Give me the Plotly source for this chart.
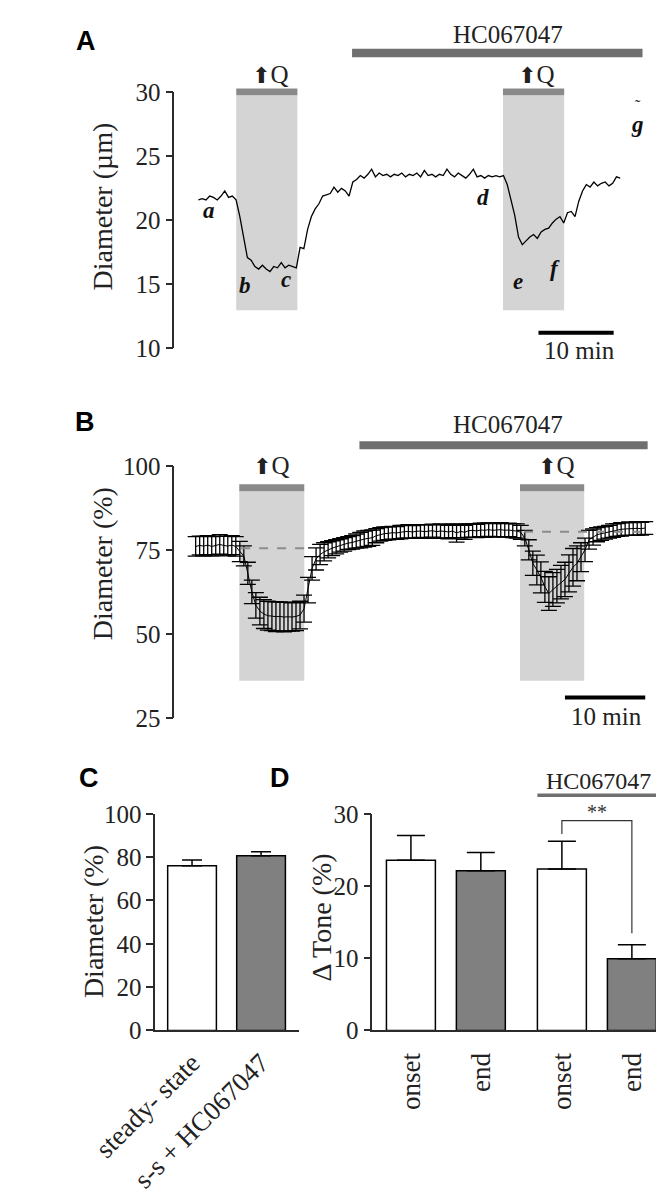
import plotly.graph_objects as go

# ---------------- data ----------------
# Panel A: single-vessel diameter trace (um), sampled every 0.5 min
a_step = 0.5
a_diam = [21.6, 21.7, 21.6, 21.9, 21.8, 21.6, 21.9, 22.3, 21.8, 21.9,
          21.6, 20.3, 18.7, 17.1, 16.9, 16.4, 16.2, 16.5, 16.2, 16.0,
          16.4, 16.3, 16.7, 16.3, 16.5, 16.4, 16.3, 17.9, 17.8, 19.3,
          20.3, 20.9, 21.3, 21.9, 22.0, 22.1, 22.6, 22.2, 22.5, 22.3,
          21.9, 23.0, 23.2, 23.5, 23.3, 23.6, 24.0, 23.4, 23.7, 23.5,
          23.6, 23.4, 23.6, 23.5, 23.7, 23.4, 23.6, 23.5, 23.7, 23.4,
          23.9, 23.5, 23.6, 23.4, 23.6, 23.5, 24.0, 23.6, 23.4, 23.7,
          23.5, 23.3, 23.6, 24.0, 23.4, 23.5, 23.3, 23.5, 23.4, 23.5,
          23.4, 23.5, 22.8, 21.5, 20.4, 18.7, 18.1, 18.4, 18.7, 18.9,
          18.6, 19.1, 19.3, 19.4, 19.8, 20.1, 20.3, 19.8, 20.6, 20.7,
          20.3, 21.5, 22.3, 22.8, 22.6, 23.0, 22.7, 22.9, 23.0, 22.7,
          22.9, 23.4, 23.3]
a_time = [i * a_step for i in range(len(a_diam))]
a_q_windows = [(5.02, 13.14), (40.44, 48.56)]
a_hc_window = (20.4, 58.96)
a_letters = ["a", "b", "c", "d", "e", "f", "g"]
a_letter_t = [1.37, 6.19, 11.67, 37.8, 42.4, 47.3, 58.36]
a_letter_v = [20.75, 14.95, 15.35, 21.75, 15.2, 16.25, 27.5]

# Panel B: mean diameter (%) +- SEM, sampled every 0.5 min
b_step = 0.5
b_mean = [76.0, 76.3, 76.1, 76.4, 76.0, 76.2, 76.6, 76.3, 76.1, 76.4, 76.0,
          74.5, 73.2, 68.0, 62.5, 58.5, 56.8, 55.9, 55.4, 55.3, 55.1,
          55.2, 55.0, 55.1, 55.0, 55.2, 55.6, 57.5, 63.0, 69.5, 72.3,
          73.6, 74.4, 75.0, 75.5, 75.9, 76.3, 76.6, 77.0, 77.2, 77.6,
          77.9, 78.2, 78.4, 78.6, 79.2, 79.6, 79.8, 79.9, 80.1, 80.0,
          80.3, 80.4, 80.5, 80.3, 80.5, 80.6, 80.4, 80.5, 80.7, 80.4,
          80.6, 80.5, 80.3, 80.6, 80.0, 80.5, 80.2, 80.7, 80.8, 80.6,
          80.9, 80.8, 81.0, 80.8, 80.9, 81.0, 80.8, 80.9, 80.7, 80.6,
          80.2, 78.5, 75.0, 71.0, 69.0, 66.8, 64.0, 62.0, 63.2, 64.2,
          65.4, 66.2, 68.0, 69.8, 71.0, 72.8, 75.0, 78.0, 78.8, 79.5,
          79.8, 80.1, 80.4, 80.7, 80.9, 81.1, 81.2, 81.3, 81.2, 81.4,
          81.3, 81.5]
b_sem = [2.9, 2.8, 2.9, 2.8, 2.9, 2.8, 2.9, 2.8, 2.9, 2.8, 2.9,
         3.0, 3.0, 3.3, 3.5, 3.8, 4.1, 4.3, 4.3, 4.3, 4.4,
         4.3, 4.4, 4.3, 4.2, 4.2, 4.1, 4.0, 3.8, 3.5, 3.3,
         3.0, 2.7, 2.4, 2.2, 2.1, 2.0, 2.0, 1.9, 2.0, 2.1,
         2.3, 2.4, 2.4, 2.3, 2.1, 2.0, 2.0, 1.9, 1.9, 1.9,
         2.0, 1.9, 2.0, 1.9, 2.0, 1.9, 2.0, 2.0, 1.9, 2.0,
         2.1, 2.0, 2.0, 2.0, 2.7, 2.0, 2.1, 2.0, 2.0, 2.0,
         2.0, 2.1, 2.0, 2.0, 2.0, 2.1, 2.0, 2.0, 2.1, 2.1,
         2.1, 2.3, 3.0, 3.6, 4.4, 4.6, 4.6, 5.0, 5.0, 5.0,
         5.0, 5.1, 5.5, 5.6, 5.2, 4.3, 3.5, 2.8, 2.4, 2.1,
         2.0, 1.9, 1.9, 2.0, 1.9, 2.0, 1.9, 2.0, 1.9, 2.0,
         1.9, 1.9]
b_time = [i * b_step for i in range(len(b_mean))]
b_q_windows = [(5.43, 13.53), (40.4, 48.4)]
b_hc_window = (20.4, 56.3)
b_baselines = [(5.66, 14.26, 75.5), (40.9, 56.6, 80.4)]

# Panel C
c_labels = ["steady- state", "s-s + HC067047"]
c_values = [76.0, 80.6]
c_errors = [2.7, 1.9]

# Panel D
d_labels = ["onset", "end", "onset", "end"]
d_values = [23.55, 22.1, 22.35, 9.93]
d_errors = [3.43, 2.55, 3.85, 1.94]

# ---------------- layout helpers ----------------
W, H = 664, 1200
SERIF = "Liberation Serif"
SANS = "Liberation Sans"
AXC = "#2b2b2b"


def px(x):
    return x / W


def py(y):
    return 1 - y / H


def note(x, y, text, xref, yref, font, **kw):
    d = dict(x=x, y=y, xref=xref, yref=yref, text=text, showarrow=False,
             xanchor="center", yanchor="middle", font=font)
    d.update(kw)
    return d


fig = go.Figure()

# ---------- Panel A ----------
fig.add_trace(go.Scatter(x=a_time, y=a_diam, mode="lines",
                         line=dict(color="black", width=1.3),
                         xaxis="x", yaxis="y", hoverinfo="skip"))

# ---------- Panel B ----------
fig.add_trace(go.Scatter(x=b_time, y=b_mean, mode="lines",
                         line=dict(color="black", width=1.0),
                         error_y=dict(type="data", array=b_sem, visible=True,
                                      color="black", thickness=1.3, width=8),
                         xaxis="x2", yaxis="y2", hoverinfo="skip"))

# ---------- Panel C ----------
c_pos = [0, 1]
fig.add_trace(go.Bar(x=c_pos, y=c_values, width=0.706,
                     marker=dict(color=["white", "#808080"],
                                 line=dict(color="black", width=1.5)),
                     error_y=dict(type="data", array=c_errors,
                                  arrayminus=[0] * len(c_errors), symmetric=False,
                                  color="black", thickness=1.5, width=10),
                     xaxis="x3", yaxis="y3", hoverinfo="skip"))

# ---------- Panel D ----------
d_pos = [0, 1, 2.159, 3.16]
fig.add_trace(go.Bar(x=d_pos, y=d_values, width=0.70,
                     marker=dict(color=["white", "#808080", "white", "#808080"],
                                 line=dict(color="black", width=1.5)),
                     error_y=dict(type="data", array=d_errors,
                                  arrayminus=[0] * len(d_errors), symmetric=False,
                                  color="black", thickness=1.5, width=14),
                     xaxis="x4", yaxis="y4", hoverinfo="skip"))

shapes = []
annotations = []

tickfont_ab = dict(family=SERIF, size=25, color="#222")
tickfont_cd = dict(family=SERIF, size=25, color="#222")
txt = dict(family=SERIF, size=25, color="#222")
title_font = dict(family=SERIF, size=28, color="#222")
panel_font = dict(family=SANS, size=27, color="black")


def yax(domain, rng, tickvals, font, anchor):
    return dict(domain=domain, range=rng, tickvals=tickvals, ticks="outside",
                ticklen=7, tickwidth=1.5, tickcolor=AXC, showline=True,
                linecolor=AXC, linewidth=1.5, showgrid=False, zeroline=False,
                tickfont=font, anchor=anchor, fixedrange=True)


hidden_x = dict(visible=False, showgrid=False, zeroline=False, fixedrange=True)

layout = dict(
    width=W, height=H, margin=dict(l=0, r=0, t=0, b=0),
    paper_bgcolor="white", plot_bgcolor="white", showlegend=False,
    xaxis=dict(domain=[px(112.3), px(645)], range=[-3.2, 60.6], anchor="y", **hidden_x),
    yaxis=yax([py(335), py(73)], [10, 30], [10, 15, 20, 25, 30], tickfont_ab, "x"),
    xaxis2=dict(domain=[px(112.3), px(645)], range=[-2.66, 57.2], anchor="y2", **hidden_x),
    yaxis2=yax([py(713), py(455)], [25, 100], [25, 50, 75, 100], tickfont_ab, "x2"),
    xaxis3=dict(domain=[px(91.1), px(250)], range=[-0.534, 1.543], anchor="y3",
                tickvals=c_pos, ticktext=c_labels, tickangle=-45, ticks="",
                showline=True, linecolor=AXC, linewidth=1.5, showgrid=False,
                zeroline=False, tickfont=dict(family=SERIF, size=27, color="#222"),
                ticklabelstandoff=4, fixedrange=True),
    yaxis3=yax([py(1032.7), py(811)], [0, 100], [0, 20, 40, 60, 80, 100], tickfont_cd, "x3"),
    xaxis4=dict(domain=[px(331.8), px(661)], range=[-0.552, 3.695], anchor="y4",
                tickvals=d_pos, ticktext=d_labels, tickangle=-90, ticks="",
                showline=True, linecolor=AXC, linewidth=1.5, showgrid=False,
                zeroline=False, tickfont=dict(family=SERIF, size=27, color="#222"),
                ticklabelstandoff=10, fixedrange=True),
    yaxis4=yax([py(1032.7), py(811)], [0, 30], [0, 10, 20, 30], tickfont_cd, "x4"),
)

ARROWQ = '<span style="font-family:DejaVu Sans;font-size:22px">⬆</span>Q'

# ---- Panel A decorations ----
for (t0, t1) in a_q_windows:
    shapes.append(dict(type="rect", xref="x", yref="paper", x0=t0, x1=t1,
                       y0=py(296), y1=py(76), fillcolor="#d4d4d4", line=dict(width=0),
                       layer="below"))
    shapes.append(dict(type="rect", xref="x", yref="paper", x0=t0, x1=t1,
                       y0=py(76), y1=py(69), fillcolor="#8a8a8a", line=dict(width=0)))
shapes.append(dict(type="rect", xref="x", yref="paper", x0=a_hc_window[0], x1=a_hc_window[1],
                   y0=py(37), y1=py(28.5), fillcolor="#6f6f6f", line=dict(width=0)))
shapes.append(dict(type="line", xref="x", yref="paper", x0=45.15, x1=55.13,
                   y0=py(319), y1=py(319), line=dict(color="black", width=4)))
annotations.append(note(50.6, py(337), "10 min", "x", "paper", txt))
annotations.append(note(41.05, py(14), "HC067047", "x", "paper", txt))
for tq in [9.6, 44.9]:
    annotations.append(note(tq, py(55), ARROWQ, "x", "paper", txt))
for lab, lt, lv in zip(a_letters, a_letter_t, a_letter_v):
    annotations.append(note(lt, lv, "<b><i>" + lab + "</i></b>", "x", "y",
                            dict(family=SERIF, size=23, color="#111")))
annotations.append(note(58.3, 28.95, "˜", "x", "y", dict(family=SERIF, size=16, color="#111")))
annotations.append(note(px(14.5), py(20.5), "<b>A</b>", "paper", "paper", panel_font))
annotations.append(note(px(33), py(190), "Diameter (µm)", "paper", "paper", title_font,
                        textangle=-90))

# ---- Panel B decorations ----
for (t0, t1) in b_q_windows:
    shapes.append(dict(type="rect", xref="x2", yref="paper", x0=t0, x1=t1,
                       y0=py(675), y1=py(481), fillcolor="#d4d4d4", line=dict(width=0),
                       layer="below"))
    shapes.append(dict(type="rect", xref="x2", yref="paper", x0=t0, x1=t1,
                       y0=py(481), y1=py(474), fillcolor="#8a8a8a", line=dict(width=0)))
for (t0, t1, lvl) in b_baselines:
    shapes.append(dict(type="line", xref="x2", yref="y2", x0=t0, x1=t1, y0=lvl, y1=lvl,
                       line=dict(color="#8c8c8c", width=2, dash="dash")))
shapes.append(dict(type="rect", xref="x2", yref="paper", x0=b_hc_window[0], x1=b_hc_window[1],
                   y0=py(438), y1=py(430), fillcolor="#6f6f6f", line=dict(width=0)))
shapes.append(dict(type="line", xref="x2", yref="paper", x0=46.0, x1=56.0,
                   y0=py(692), y1=py(692), line=dict(color="black", width=4)))
annotations.append(note(51.2, py(711), "10 min", "x2", "paper", txt))
annotations.append(note(38.85, py(413), "HC067047", "x2", "paper", txt))
for tq in [9.5, 44.9]:
    annotations.append(note(tq, py(455), ARROWQ, "x2", "paper", txt))
annotations.append(note(px(13), py(410), "<b>B</b>", "paper", "paper", panel_font))
annotations.append(note(px(33), py(555), "Diameter (%)", "paper", "paper", title_font,
                        textangle=-90))

# ---- Panel C decorations ----
annotations.append(note(px(18), py(774), "<b>C</b>", "paper", "paper", panel_font))
annotations.append(note(px(22), py(921), "Diameter (%)", "paper", "paper", title_font,
                        textangle=-90))

# ---- Panel D decorations ----
annotations.append(note(px(229), py(774), "<b>D</b>", "paper", "paper", panel_font))
annotations.append(note(px(275), py(917), "Δ Tone (%)", "paper", "paper", title_font,
                        textangle=-90))
shapes.append(dict(type="line", xref="x4", yref="paper", x0=d_pos[2] - 0.35, x1=d_pos[3] + 0.35,
                   y0=py(792), y1=py(792), line=dict(color="#707070", width=3.5)))
annotations.append(note((d_pos[2] + d_pos[3]) / 2 + 0.03, py(777), "HC067047", "x4", "paper",
                        dict(family=SERIF, size=24, color="#222")))
# significance bracket
br_top = 29.05
shapes.append(dict(type="path", xref="x4", yref="y4",
                   path=f"M {d_pos[2]},{27.2} L {d_pos[2]},{br_top} L {d_pos[3]},{br_top} L {d_pos[3]},{13.45}",
                   line=dict(color="#333", width=1.2)))
annotations.append(note((d_pos[2] + d_pos[3]) / 2, py(809), "**", "x4", "paper",
                        dict(family=SERIF, size=20, color="#333")))

layout["shapes"] = shapes
layout["annotations"] = annotations
fig.update_layout(**layout)

fig.write_html("out.html")
